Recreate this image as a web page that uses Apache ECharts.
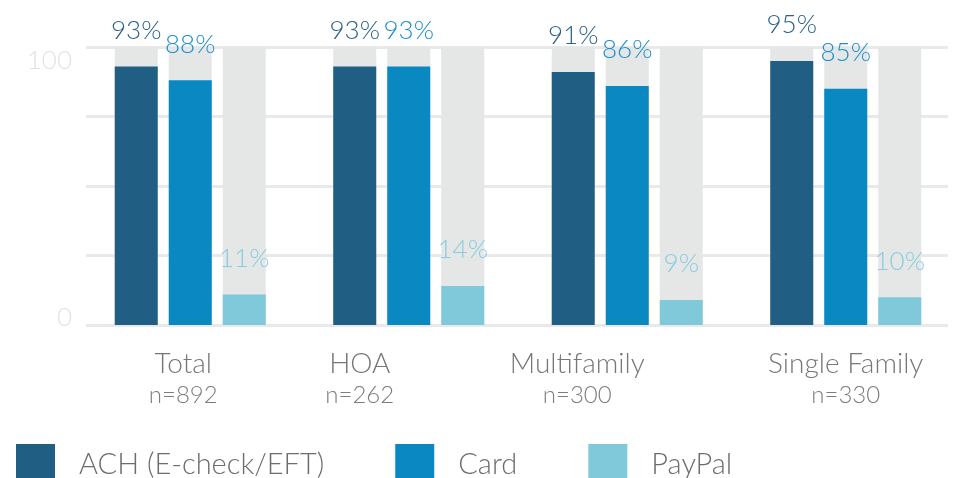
<!DOCTYPE html>
<html>
<head>
<meta charset="utf-8">
<script src="https://cdn.jsdelivr.net/npm/echarts@6/dist/echarts.min.js"></script>
<style>
  html, body { margin: 0; padding: 0; background: #fff; }
  #chart { width: 955px; height: 478px; }
</style>
</head>
<body>
<div id="chart"></div>
<script>
// 数据
var categories = ['Total', 'HOA', 'Multifamily', 'Single Family']
var sampleSizes = ['n=892', 'n=262', 'n=300', 'n=330']
var achValues = [93, 93, 91, 95]
var cardValues = [88, 93, 86, 85]
var paypalValues = [11, 14, 9, 10]

// 样式
var FONT = 'Lato, "Open Sans", sans-serif'
var labelShift = [-7, -49, -50, 0] // 类目标签相对分组中心的偏移

var rich = {}
labelShift.forEach(function(s, i) {
  var pad = s < 0 ? [0, -2 * s, 0, 0] : [0, 0, 0, 2 * s]
  rich['n' + i] = { fontFamily: FONT, fontWeight: 300, fontSize: 28, color: '#777', lineHeight: 32, padding: pad }
  rich['s' + i] = { fontFamily: FONT, fontWeight: 300, fontSize: 24, color: '#7d7d7d', lineHeight: 30, padding: pad }
})

function barSeries(name, data, color, labelColor) {
  return {
    name: name,
    type: 'bar',
    xAxisIndex: 0,
    yAxisIndex: 0,
    data: data,
    barWidth: 43,
    barGap: '25.6%',
    itemStyle: { color: color },
    showBackground: true,
    backgroundStyle: { color: '#e5e6e6' },
    label: {
      show: true,
      position: 'top',
      distance: 23,
      formatter: '{c}%',
      fontFamily: FONT,
      fontWeight: 300,
      fontSize: 26,
      color: labelColor
    },
    z: 3
  }
}

var chart = echarts.init(document.getElementById('chart'))
chart.setOption({
  backgroundColor: '#fff',
  animation: false,
  legend: {
    left: 16,
    top: 444,
    padding: 0,
    icon: 'rect',
    itemWidth: 39,
    itemHeight: 34,
    itemGap: 71,
    formatter: '{t|{name}}',
    textStyle: {
      fontFamily: FONT,
      fontWeight: 300,
      fontSize: 29,
      color: '#6d6d6d',
      padding: [0, 0, 0, 19],
      rich: {
        t: { fontFamily: FONT, fontWeight: 300, fontSize: 29, color: '#6d6d6d', padding: [8, 0, 0, 0] }
      }
    },
    data: ['ACH (E-check/EFT)', 'Card', 'PayPal']
  },
  grid: [
    { left: 81, right: -2, top: 47, bottom: 153 },
    { left: 86, right: 7, top: 47, bottom: 153 }
  ],
  xAxis: [{
    type: 'category',
    gridIndex: 0,
    data: categories,
    axisLine: { show: false },
    axisTick: { show: false },
    axisLabel: {
      margin: 23,
      interval: 0,
      formatter: function(value, idx) {
        return '{n' + idx + '|' + value + '}\n{s' + idx + '|' + sampleSizes[idx] + '}'
      },
      rich: rich
    }
  }, {
    type: 'value',
    gridIndex: 1,
    min: 0,
    max: 1,
    show: false
  }],
  yAxis: [{
    type: 'value',
    gridIndex: 0,
    min: 0,
    max: 100,
    show: false
  }, {
    type: 'value',
    gridIndex: 1,
    min: 0,
    max: 100,
    interval: 25,
    axisLine: { show: false },
    axisTick: { show: false },
    splitLine: { lineStyle: { color: '#e9e9e9', width: 3 } },
    axisLabel: {
      margin: 14,
      formatter: function(v) {
        if (v === 100) return '{t|100}'
        if (v === 0) return '{b|0}'
        return ''
      },
      rich: {
        t: { fontFamily: FONT, fontWeight: 300, fontSize: 26, color: '#e2e2e2', padding: [28, 0, 0, 0] },
        b: { fontFamily: FONT, fontWeight: 300, fontSize: 26, color: '#e2e2e2', padding: [0, 0, 14, 0] }
      }
    }
  }],
  series: [
    barSeries('ACH (E-check/EFT)', achValues, '#215e84', '#2c6189'),
    barSeries('Card', cardValues, '#0a88c1', '#1d8fc9'),
    barSeries('PayPal', paypalValues, '#80c9db', '#87cde0')
  ]
})
</script>
</body>
</html>
